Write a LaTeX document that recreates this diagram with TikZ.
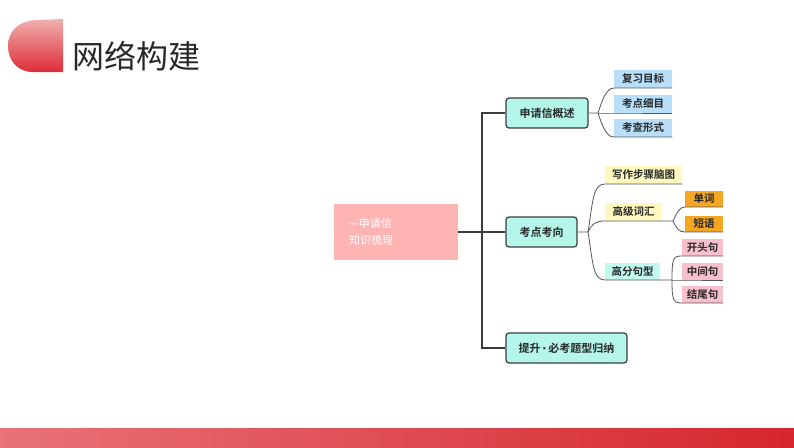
\documentclass[tikz,border=0pt]{standalone}
\usepackage{fontspec}
\newfontfamily\cjk{Noto Sans CJK SC}[BoldFont={Noto Sans CJK SC Bold}]
\newfontfamily\latin{DejaVu Sans}
\definecolor{rootpink}{RGB}{255,180,180}
\definecolor{topicfill}{RGB}{180,246,234}
\definecolor{boxline}{RGB}{60,60,60}
\definecolor{linegray}{RGB}{85,85,85}
\definecolor{textdark}{RGB}{40,40,40}
\definecolor{leafblue}{RGB}{184,222,250}
\definecolor{leafyellow}{RGB}{255,249,192}
\definecolor{leaforange}{RGB}{245,166,35}
\definecolor{leafpink}{RGB}{248,192,202}
\definecolor{leafaqua}{RGB}{192,250,240}
\definecolor{droptop}{RGB}{240,175,175}
\definecolor{dropbottom}{RGB}{222,44,54}
\definecolor{barleft}{RGB}{232,114,120}
\definecolor{barright}{RGB}{214,38,46}
\tikzset{
  topic/.style={draw=boxline, line width=1.2pt, rounded corners=3pt, fill=topicfill, minimum height=30pt, inner sep=0pt, text=textdark, font=\cjk\bfseries\fontsize{11}{13}\selectfont},
  leaf/.style={anchor=south west, inner sep=0pt, minimum height=18pt, text=textdark, font=\cjk\bfseries\fontsize{10.5}{12}\selectfont},
  branch/.style={draw=linegray, line width=0.8pt},
  trunk/.style={draw=boxline, line width=1.6pt},
}
\begin{document}
\begin{tikzpicture}[x=1pt, y=-1pt]
\useasboundingbox (0,0) rectangle (794,447);
% header and footer
\shade[top color=droptop, bottom color=dropbottom] (63,19) -- (63,72) -- (33,72) .. controls (17,72) and (8,60) .. (8,46) .. controls (8,30) and (20,20) .. (38,20) -- cycle;
\node[text=textdark, inner sep=0pt, font=\cjk\fontsize{32}{36}\selectfont] (title) at (136,56) {网络构建};
\shade[left color=barleft, right color=barright] (0,428) rectangle (794,447);

\node[fill=rootpink, minimum width=124pt, minimum height=56pt, text width=94pt, align=left, inner xsep=15pt, text=white, font=\cjk\fontsize{11}{17}\selectfont] (root) at (396,232) {—申请信\\知识梳理};
\node[topic, minimum width=82pt] (b1) at (547,113) {申请信概述};
\node[topic, minimum width=71pt] (b2) at (541.5,232) {考点考向};
\node[topic, minimum width=121pt] (b3) at (566.5,348) {提升{\latin\bfseries\,·\,}必考题型归纳};

\coordinate (jn) at (482,232);
\draw[trunk] (root.east) -- (b2.west);
\draw[trunk] (b1.west) -| (jn) |- (b3.west);

\node[leaf, fill=leafblue, minimum width=58pt] (l11) at (614,88) {复习目标};
\node[leaf, fill=leafblue, minimum width=58pt] (l12) at (614,113) {考点细目};
\node[leaf, fill=leafblue, minimum width=58pt] (l13) at (614,137) {考查形式};

\node[leaf, fill=leafyellow, minimum width=77pt] (l21) at (605,184) {写作步骤脑图};
\node[leaf, fill=leafyellow, minimum width=57pt] (l22) at (605,221) {高级词汇};
\node[leaf, fill=leafaqua, minimum width=55pt, minimum height=17pt] (l23) at (605,280) {高分句型};

\node[leaf, fill=leaforange, minimum width=38pt, minimum height=16pt] (l31) at (685,207) {单词};
\node[leaf, fill=leaforange, minimum width=38pt, minimum height=16pt] (l32) at (685,232) {短语};

\node[leaf, fill=leafpink, minimum width=41pt, minimum height=17pt] (l41) at (682,256) {开头句};
\node[leaf, fill=leafpink, minimum width=41pt, minimum height=17pt] (l42) at (682,280) {中间句};
\node[leaf, fill=leafpink, minimum width=41pt, minimum height=17pt] (l43) at (682,303) {结尾句};

\coordinate (f1) at (598,113);
\coordinate (f2) at (588,232);
\coordinate (f3) at (673,221);
\coordinate (f4) at (672,280);

\draw[branch] (b1.east) -- (f1) .. controls +(4,-12) and +(-8,0) .. (l11.south west) -- (l11.south east);
\draw[branch] (f1) -- (l12.south west) -- (l12.south east);
\draw[branch] (f1) .. controls +(4,12) and +(-8,0) .. (l13.south west) -- (l13.south east);

\draw[branch] (b2.east) -- (f2) .. controls +(5,-32) and +(-12,0) .. (l21.south west) -- (l21.south east);
\draw[branch] (f2) .. controls +(4,-8) and +(-10,0) .. (l22.south west) -- (l22.south east) -- (f3);
\draw[branch] (f2) .. controls +(5,32) and +(-12,0) .. (l23.south west) -- (l23.south east) -- (f4);

\draw[branch] (f3) .. controls +(4,-8) and +(-6,0) .. (l31.south west) -- (l31.south east);
\draw[branch] (f3) .. controls +(4,8) and +(-6,0) .. (l32.south west) -- (l32.south east);

\draw[branch] (f4) .. controls +(0,-22) and +(-9,0) .. (l41.south west) -- (l41.south east);
\draw[branch] (f4) -- (l42.south west) -- (l42.south east);
\draw[branch] (f4) .. controls +(0,20) and +(-9,0) .. (l43.south west) -- (l43.south east);
\end{tikzpicture}
\end{document}
